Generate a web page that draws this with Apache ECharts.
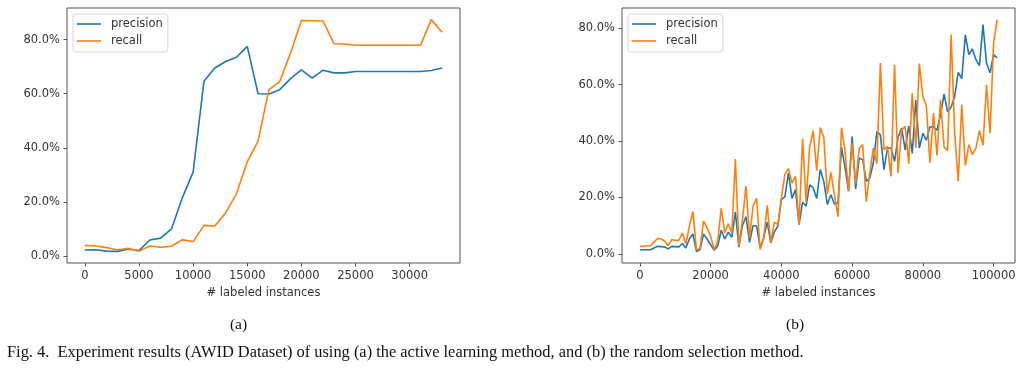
<!DOCTYPE html>
<html>
<head>
<meta charset="utf-8">
<script src="https://cdn.jsdelivr.net/npm/echarts@6/dist/echarts.min.js"></script>
<style>
html,body{margin:0;padding:0;background:#fff;}
#c{width:1024px;height:368px;}
</style>
</head>
<body>
<div id="c"></div>
<script>
// ---- (a) active learning ----
var xA = [0,1000,2000,3000,4000,5000,6000,7000,8000,9000,10000,11000,12000,13000,14000,15000,16000,17000,18000,19000,20000,21000,22000,23000,24000,25000,26000,27000,28000,29000,30000,31000,32000,33000];
var precisionA = [2.2,2.3,1.8,1.7,2.5,2.0,5.9,6.6,10.0,21.5,31.0,64.6,69.5,71.9,73.5,77.5,60.0,59.9,61.5,65.6,68.8,65.8,68.7,67.7,67.7,68.2,68.2,68.2,68.2,68.2,68.2,68.2,68.6,69.5];
var recallA = [3.9,3.7,3.1,2.2,2.8,1.8,3.7,3.2,3.6,6.0,5.3,11.3,11.1,15.9,23.0,34.8,42.5,61.5,64.5,75.1,87.1,87.0,86.9,78.5,78.4,77.9,77.9,77.9,77.9,77.9,77.9,77.9,87.4,82.7];

// ---- (b) random selection ----
var xB = [0,1000,2000,3000,4000,5000,6000,7000,8000,9000,10000,11000,12000,13000,14000,15000,16000,17000,18000,19000,20000,21000,22000,23000,24000,25000,26000,27000,28000,29000,30000,31000,32000,33000,34000,35000,36000,37000,38000,39000,40000,41000,42000,43000,44000,45000,46000,47000,48000,49000,50000,51000,52000,53000,54000,55000,56000,57000,58000,59000,60000,61000,62000,63000,64000,65000,66000,67000,68000,69000,70000,71000,72000,73000,74000,75000,76000,77000,78000,79000,80000,81000,82000,83000,84000,85000,86000,87000,88000,89000,90000,91000,92000,93000,94000,95000,96000,97000,98000,99000,100000,101000];
var precisionB = [1.5,1.5,1.5,1.5,2.1,2.7,2.6,2.5,1.8,2.7,
  2.6,2.5,3.7,2.1,5.3,7.1,0.9,1.5,7.1,5.3,
  3.3,1.3,2.7,8.4,5.3,7.7,5.9,14.9,2.4,10.0,
  13.2,4.1,10.0,10.0,2.1,5.8,11.3,3.9,7.7,9.9,
  19.2,20.3,28.7,19.7,22.8,10.4,18.4,16.9,24.5,23.4,
  19.6,29.9,25.7,17.5,21.0,17.7,18.0,37.8,30.7,22.2,
  41.6,23.0,34.0,33.4,25.7,26.9,32.2,43.3,42.2,29.9,
  37.5,37.5,32.8,41.3,44.6,36.9,45.4,35.6,54.5,37.5,
  42.7,40.3,45.0,45.0,43.8,49.3,56.6,50.3,52.0,55.8,
  64.3,62.1,77.6,70.6,72.6,68.8,66.7,81.2,67.6,64.1,
  70.6,69.4];
var recallB = [2.7,2.7,2.9,2.9,4.2,5.5,5.3,4.6,2.9,5.1,
  4.8,4.8,7.4,3.5,9.8,15.0,1.5,1.8,11.6,9.2,
  6.3,1.5,4.5,16.2,7.4,10.7,7.4,33.6,2.8,12.0,
  24.0,5.6,16.9,19.7,1.6,5.6,17.2,3.9,11.3,10.4,
  19.8,28.2,30.2,25.1,27.5,10.4,40.9,18.3,37.9,43.6,
  29.5,44.8,41.3,21.3,28.9,21.0,13.2,44.7,36.5,22.4,
  39.2,25.0,37.4,38.7,18.5,28.7,37.5,32.0,67.6,36.9,
  38.1,27.5,67.0,28.7,44.0,45.2,32.0,57.0,37.5,67.4,
  55.8,52.5,32.3,49.9,34.9,54.6,37.9,36.6,77.6,42.8,
  25.7,52.9,31.4,38.7,35.2,37.5,43.7,38.5,59.9,42.8,
  74.7,83.0];

var yTicks = [0,20,40,60,80];
var xTicksA = [0,5000,10000,15000,20000,25000,30000];
var xTicksB = [0,20000,40000,60000,80000,100000];
var seriesNames = ['precision','recall'];
var xName = '# labeled instances';
var subLabels = ['(a)','(b)'];
var caption = 'Fig. 4.  Experiment results (AWID Dataset) of using (a) the active learning method, and (b) the random selection method.';

function pairs(xs, ys){ return xs.map(function(x,i){ return [x, ys[i]]; }); }

var FONT = 'DejaVu Sans';
var AX = '#555';
var TXT = '#333';
var C0 = '#1f77b4', C1 = '#ff7f0e';

function xAxisCfg(idx, min, max, ticks){
  return {
    type:'value', gridIndex: idx, min:min, max:max, position:'bottom',
    name: xName, nameLocation:'middle', nameGap: 23,
    nameTextStyle:{fontFamily:FONT, fontSize:11.5, color:TXT},
    axisLine:{show:false, onZero:false},
    axisTick:{show:true, length:3.5, lineStyle:{color:AX, width:1}, customValues:ticks},
    axisLabel:{fontFamily:FONT, fontSize:11.5, color:TXT, margin:7, customValues:ticks,
      formatter:function(v){ return String(v); }},
    splitLine:{show:false}
  };
}
function yAxisCfg(idx, min, max){
  return {
    type:'value', gridIndex: idx, min:min, max:max, position:'left',
    axisLine:{show:false, onZero:false},
    axisTick:{show:true, length:3.5, lineStyle:{color:AX, width:1}, customValues:yTicks},
    axisLabel:{fontFamily:FONT, fontSize:11.5, color:TXT, margin:7, customValues:yTicks,
      formatter:function(v){ return v.toFixed(1)+'%'; }},
    splitLine:{show:false}
  };
}
function lineSeries(name, color, xi, data){
  return {type:'line', name:name, xAxisIndex:xi, yAxisIndex:xi, data:data,
    symbol:'none', showSymbol:false, animation:false,
    lineStyle:{color:color, width:1.6}, itemStyle:{color:color}};
}
function legendCfg(left){
  return {
    left:left, top:14, orient:'vertical', data:seriesNames,
    icon:'rect', itemWidth:24, itemHeight:1.6, itemGap:5,
    padding:[4,5,5,4],
    borderColor:'#d6d6d6', borderWidth:1, borderRadius:3,
    backgroundColor:'rgba(255,255,255,0.8)',
    textStyle:{fontFamily:FONT, fontSize:11.5, color:TXT, lineHeight:12, padding:[0,0,0,5]},
    selectedMode:false
  };
}

var chart = echarts.init(document.getElementById('c'), null, {renderer:'canvas'});
chart.setOption({
  animation:false,
  backgroundColor:'#fff',
  grid:[
    {left:67, top:8, width:393, height:255, show:true, borderColor:AX, borderWidth:1, backgroundColor:'transparent'},
    {left:622, top:8, width:393, height:255, show:true, borderColor:AX, borderWidth:1, backgroundColor:'transparent'}
  ],
  xAxis:[ xAxisCfg(0, -1650, 34650, xTicksA), xAxisCfg(1, -5050, 106050, xTicksB) ],
  yAxis:[ yAxisCfg(0, -2.6, 91.7), yAxisCfg(1, -3.2, 87.1) ],
  legend:[ legendCfg(73), legendCfg(628) ],
  series:[
    lineSeries(seriesNames[0], C0, 0, pairs(xA, precisionA)),
    lineSeries(seriesNames[1], C1, 0, pairs(xA, recallA)),
    lineSeries(seriesNames[0], C0, 1, pairs(xB, precisionB)),
    lineSeries(seriesNames[1], C1, 1, pairs(xB, recallB))
  ],
  graphic:[
    {type:'text', x:238.5, y:325, style:{text:subLabels[0], font:'15.5px "Liberation Serif"', fill:'#111', align:'center', verticalAlign:'middle'}},
    {type:'text', x:795, y:325, style:{text:subLabels[1], font:'15.5px "Liberation Serif"', fill:'#111', align:'center', verticalAlign:'middle'}},
    {type:'text', x:7, y:352.5, style:{text:caption, font:'16.4px "Liberation Serif"', fill:'#111', align:'left', verticalAlign:'middle'}}
  ]
});
</script>
</body>
</html>
